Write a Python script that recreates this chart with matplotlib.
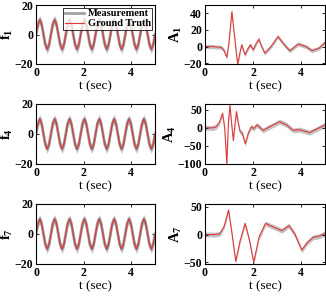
import numpy as np
import matplotlib
matplotlib.use("Agg")
import matplotlib.pyplot as plt

plt.rcParams['font.family'] = ['Liberation Serif', 'DejaVu Serif']
plt.rcParams['font.weight'] = 'bold'
plt.rcParams['mathtext.fontset'] = 'custom'
plt.rcParams['mathtext.rm'] = 'Liberation Serif:bold'
plt.rcParams['mathtext.it'] = 'Liberation Serif:bold'

t_f = np.linspace(0, 5, 65)
f1 = [0, 7, 10, 7, 0, -7, -10, -7, 0, 7, 10, 7, 0, -7, -10, -7,
      0, 7, 10, 7, 0, -7, -10, -7, 0, 7, 10, 7, 0, -7, -10, -7,
      0, 7, 10, 7, 0, -7, -10, -7, 0, 7, 10, 7, 0, -7, -10, -7,
      0, 7, 10, 7, 0, -7, -10, -7, 0, 7, 10, 7, 0, -7, -10, -7, 0]
f4 = list(f1)
f7 = list(f1)

# responses A1, A4, A7
t_a1 = [0, 0.3, 0.68, 0.8, 0.91, 1.0, 1.12, 1.24, 1.36, 1.45, 1.53, 1.67, 1.78, 1.89,
        2.01, 2.12, 2.24, 2.36, 2.49, 2.75, 3.04, 3.28, 3.53, 3.88, 4.2, 4.46, 4.75, 5.0]
a1 = [0, 0, -1, -5, -13, 5, 42, 10, -22, -8, 2, -10, -3, 2,
      -4, 3, 9, 0, -8, 0, 12, 3, -5, 3, 0, -5, -2, 5]

t_a4 = [0, 0.3, 0.45, 0.6, 0.73, 0.82, 0.91, 0.98, 1.04, 1.11, 1.18, 1.25, 1.31, 1.38,
        1.46, 1.55, 1.68, 1.8, 1.93, 2.02, 2.17, 2.42, 2.75, 3.11, 3.4, 3.67, 3.94, 4.36, 5.0]
a4 = [0, 0, 2, 15, 40, 0, -100, 20, 62, 10, -35, 10, 45, 15,
      -10, -15, -44, -15, 3, -2, 8, -7, 5, 17, 8, -7, -5, -13, 8]

t_a7 = [0, 0.4, 0.61, 0.8, 0.98, 1.13, 1.28, 1.47, 1.67, 1.85, 2.03, 2.25, 2.52, 2.83,
        3.2, 3.5, 3.75, 4.03, 4.25, 4.5, 4.75, 5.0]
a7 = [0, 0, 1, 15, 44, 0, -48, -10, 20, -10, -50, -5, 20, 14,
      7, 16, 0, -28, -15, -5, -3, 2]

# half-width of the measurement noise band
noise = {'f': 3.0, 'A1': 2.5, 'A4': 7.0, 'A7': 4.5}

left_panels = [(r'$f_1$', f1), (r'$f_4$', f4), (r'$f_7$', f7)]
right_panels = [(r'$A_1$', t_a1, a1, 'A1', (-21, 50), [-20, 0, 20, 40]),
                (r'$A_4$', t_a4, a4, 'A4', (-100, 66), [-100, -50, 0, 50]),
                (r'$A_7$', t_a7, a7, 'A7', (-53, 55), [-50, 0, 50])]

W, H = 326, 296
fig = plt.figure(figsize=(W / 100, H / 100), dpi=100)
rows = [(5, 64), (104, 164), (204, 264)]

grey = '#7a7a7a'
red = '#e0393b'


def style(ax):
    ax.tick_params(direction='in', top=True, right=True, labelsize=8.5,
                   length=2, width=0.6, pad=2)
    for s in ax.spines.values():
        s.set_linewidth(0.8)
    ax.set_xlim(0, 5)
    ax.set_xticks([0, 2, 4])
    ax.set_xlabel('t (sec)', fontsize=9.5, labelpad=1)


for i, (top, bot) in enumerate(rows):
    # left column
    ax = fig.add_axes([36 / W, 1 - bot / H, (155 - 36) / W, (bot - top) / H])
    name, y = left_panels[i]
    y = np.array(y, dtype=float)
    w = noise['f']
    ax.fill_between(t_f, y - w, y + w, color=grey, alpha=0.45, lw=0)
    ax.plot(t_f, y, color=grey, lw=2.0, alpha=0.7, label='Measurement')
    ax.plot(t_f, y, color=red, lw=0.8, label='Ground Truth')
    ax.set_ylim(-20, 20)
    ax.set_yticks([-20, 0, 20])
    ax.set_ylabel(name, fontsize=10.5, labelpad=0)
    style(ax)
    if i == 0:
        leg = ax.legend(loc='upper right', fontsize=7.5, frameon=True, fancybox=False,
                        handlelength=1.8, borderpad=0.15, labelspacing=0.05,
                        handletextpad=0.4, borderaxespad=0.25)
        leg.get_frame().set_edgecolor('black')
        leg.get_frame().set_linewidth(0.7)

    # right column
    ax = fig.add_axes([205 / W, 1 - bot / H, (325 - 205) / W, (bot - top) / H])
    name, tt, yy, key, lim, ticks = right_panels[i]
    yy = np.array(yy, dtype=float)
    w = noise[key]
    ax.fill_between(tt, yy - w, yy + w, color=grey, alpha=0.45, lw=0)
    ax.plot(tt, yy, color=red, lw=0.8)
    ax.set_ylim(*lim)
    ax.set_yticks(ticks)
    ax.set_ylabel(name, fontsize=10.5, labelpad=0)
    style(ax)

fig.savefig('out.png', dpi=100)
